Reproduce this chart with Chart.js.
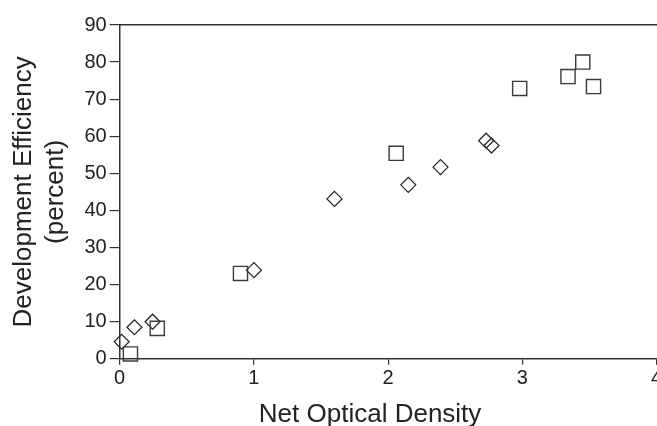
<!DOCTYPE html>
<html>
<head>
<meta charset="utf-8">
<script src="https://cdn.jsdelivr.net/npm/chart.js@4/dist/chart.umd.min.js"></script>
<style>
  html, body { margin: 0; padding: 0; background: #fff; overflow: hidden; }
  #wrap { position: relative; width: 668px; height: 426px; }
</style>
</head>
<body>
<div id="wrap"><canvas id="myChart"></canvas></div>
<script>
// values
const squareX = [0.08, 0.28, 0.90, 2.06, 2.98, 3.34, 3.45, 3.53];
const squareY = [1.3, 8.2, 23.0, 55.4, 72.9, 76.1, 80.0, 73.4];
const diamondX = [0.015, 0.11, 0.245, 1.0, 1.6, 2.15, 2.39, 2.73, 2.77];
const diamondY = [4.6, 8.5, 10.0, 23.9, 43.1, 46.9, 51.7, 58.8, 57.5];

// trailing spaces nudge the centred title a bit left, as in the original
const xTitle = 'Net Optical Density\u00a0\u00a0\u00a0\u00a0\u00a0';
const yTitle = ['Development Efficiency', '(percent)'];

const toPoints = (xs, ys) => xs.map((x, i) => ({ x: x, y: ys[i] }));
const axisColor = '#333333';
const font = 'Liberation Sans, Arial, sans-serif';

const ctx = document.getElementById('myChart').getContext('2d');

new Chart(ctx, {
  type: 'scatter',
  data: {
    datasets: [
      {
        label: 'squares',
        data: toPoints(squareX, squareY),
        pointStyle: 'rect',
        pointRadius: 10,
        pointHoverRadius: 10,
        backgroundColor: 'transparent',
        borderColor: '#3a3a3a',
        borderWidth: 1.4,
        clip: false
      },
      {
        label: 'diamonds',
        data: toPoints(diamondX, diamondY),
        pointStyle: 'rectRot',
        pointRadius: 7.5,
        pointHoverRadius: 7.5,
        backgroundColor: 'transparent',
        borderColor: '#222222',
        borderWidth: 1.2,
        clip: false
      }
    ]
  },
  options: {
    responsive: true,
    maintainAspectRatio: false,
    animation: false,
    layout: { padding: { top: 25, left: 8, right: 0, bottom: -4 } },
    plugins: {
      legend: { display: false },
      tooltip: { enabled: false }
    },
    scales: {
      x: {
        type: 'linear',
        position: 'bottom',
        min: 0,
        max: 4,
        border: { display: true, color: axisColor, width: 1.5 },
        grid: { drawOnChartArea: false, color: axisColor, tickLength: 6, lineWidth: 1.2 },
        ticks: { stepSize: 1, color: '#222', font: { family: font, size: 20 }, padding: 2 },
        title: { display: true, text: xTitle, color: '#222', font: { family: font, size: 26 }, padding: { top: 6, bottom: 0 } }
      },
      x2: {
        type: 'linear',
        position: 'top',
        min: 0,
        max: 4,
        border: { display: true, color: axisColor, width: 1.5 },
        grid: { display: false, drawTicks: false },
        ticks: { display: false }
      },
      y: {
        type: 'linear',
        min: 0,
        max: 90,
        border: { display: true, color: axisColor, width: 1.5 },
        grid: { drawOnChartArea: false, color: axisColor, tickLength: 10, lineWidth: 1.2 },
        ticks: { stepSize: 10, color: '#222', font: { family: font, size: 20 }, padding: 3 },
        title: { display: true, text: yTitle, color: '#222', font: { family: font, size: 26, lineHeight: 1.22 }, padding: { top: 0, bottom: 10 } }
      }
    }
  }
});
</script>
</body>
</html>
